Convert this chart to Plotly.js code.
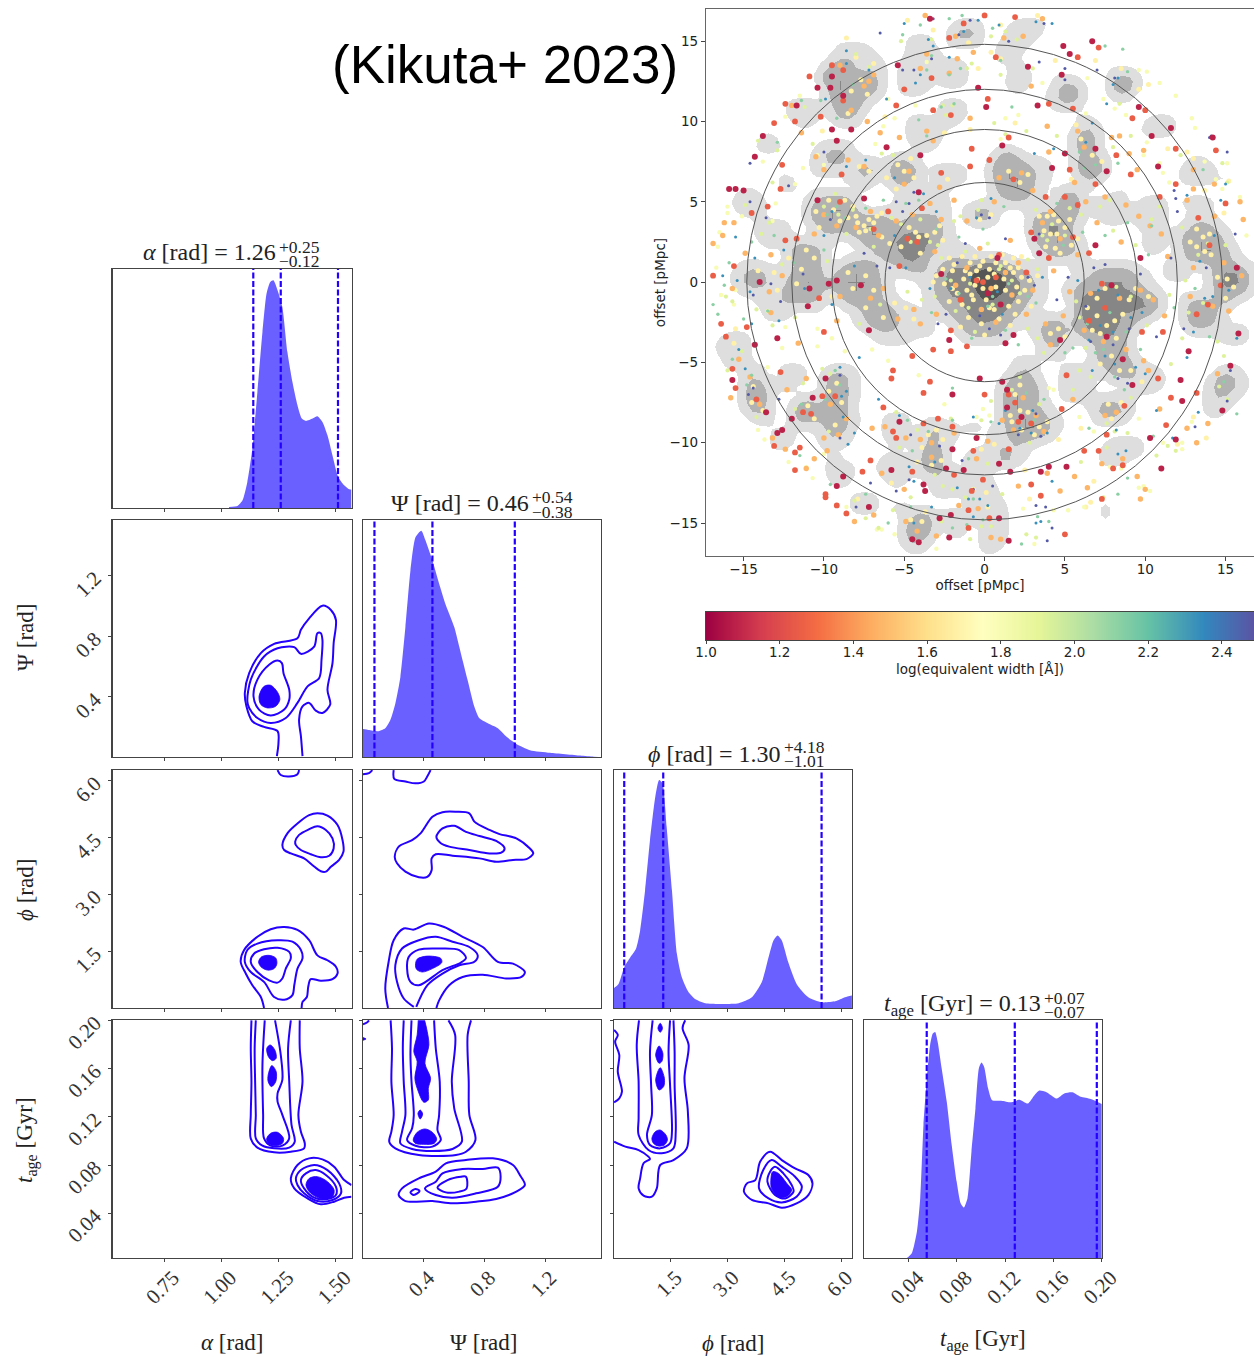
<!DOCTYPE html>
<html><head><meta charset="utf-8">
<script src="https://cdn.plot.ly/plotly-3.0.1.min.js"></script>
<style>html,body{margin:0;padding:0;background:#fff}#plot{width:1254px;height:1357px}</style></head>
<body><div id="plot"></div>
<script>
// ---------- corner plot: 1-D posteriors ----------
const alphaGrid=[1.034,1.071,1.093,1.114,1.136,1.158,1.18,1.198,1.214,1.228,1.246,1.267,1.289,1.311,1.333,1.352,1.37,1.399,1.42,1.442,1.464,1.486,1.511,1.537,1.559,1.569];
const alphaPdf=[.004,.008,.032,.109,.248,.485,.736,.897,.946,.953,.911,.841,.653,.527,.43,.374,.364,.374,.384,.36,.304,.22,.13,.095,.078,.077];
const psiGrid=[.005,.041,.107,.151,.184,.217,.25,.283,.316,.349,.387,.415,.46,.504,.548,.603,.647,.691,.735,.768,.823,.889,.944,1.01,1.099,1.231,1.429,1.517,1.565];
const psiPdf=[.118,.114,.109,.121,.156,.226,.338,.548,.787,.927,.955,.913,.829,.731,.64,.548,.436,.324,.212,.163,.142,.121,.086,.055,.029,.018,.006,.001,0];
const phiGrid=[0,.12,.27,.43,.58,.69,.82,.95,1.09,1.19,1.28,1.39,1.53,1.66,1.79,1.97,2.14,2.41,2.76,3.29,3.64,3.9,4.08,4.21,4.32,4.43,4.6,4.82,5.13,5.48,5.84,6.1,6.28];
const phiPdf=[.084,.101,.171,.213,.249,.326,.494,.705,.888,.958,.944,.761,.494,.228,.129,.066,.038,.02,.017,.02,.045,.108,.213,.284,.305,.284,.192,.101,.045,.024,.028,.045,.052];
const ageGrid=[.0386,.0427,.0469,.0496,.0523,.0551,.0578,.06,.062,.0641,.0674,.0716,.0757,.0798,.0831,.0858,.0888,.0921,.0954,.0982,.1004,.1026,.1059,.1092,.1168,.1251,.1319,.1388,.1443,.1484,.1539,.1629,.169,.1758,.1827,.1909,.2];
const agePdf=[0,.021,.112,.251,.559,.754,.894,.943,.95,.908,.796,.656,.475,.321,.23,.212,.251,.447,.628,.796,.821,.803,.712,.663,.661,.654,.665,.649,.684,.704,.698,.67,.691,.696,.677,.668,.647];
const alphaQuant=[1.14,1.26,1.51], psiQuant=[.08,.46,1.0], phiQuant=[.27,1.3,5.48], ageQuant=[.055,.128,.196];
const alphaTicks=[.75,1,1.25,1.5], alphaLabels=['0.75','1.00','1.25','1.50'];
const psiTicks=[.4,.8,1.2], psiLabels=['0.4','0.8','1.2'];
const phiTicks=[1.5,3,4.5,6], phiLabels=['1.5','3.0','4.5','6.0'];
const ageTicks=[.04,.08,.12,.16,.2], ageLabels=['0.04','0.08','0.12','0.16','0.20'];
const alphaRange=[.525,1.569], psiRange=[.005,1.565], phiRange=[0,6.283], ageRange=[.003,.2003];

// ---------- 2-D credible contours: alpha vs psi ----------
const apX1=[1.243,1.25,1.246,1.187,1.136,1.11,1.103,1.122,1.173,1.231,1.333,1.348,1.384,1.442,1.479,1.501,1.491,1.486,1.464,1.476,1.442,1.413,1.384,1.355,1.34,1.348,1.355];
const apY1=[.011,.098,.175,.203,.24,.339,.426,.557,.689,.75,.787,.842,.918,1.001,.973,.907,.754,.623,.448,.35,.295,.31,.361,.339,.251,.142,.011];
const apX2=[1.114,1.129,1.187,1.246,1.319,1.348,1.406,1.42,1.435,1.442,1.438,1.428,1.377,1.333,1.282,1.216,1.158,1.122,1.114];
const apY2=[.372,.514,.667,.721,.728,.684,.732,.82,.82,.776,.645,.525,.47,.361,.262,.229,.262,.328,.372];
const apX3=[1.141,1.158,1.209,1.246,1.265,1.272,1.297,1.297,1.275,1.216,1.165,1.141];
const apY3=[.404,.514,.612,.64,.623,.557,.448,.382,.317,.278,.317,.404];
const apX4=[1.165,1.187,1.216,1.246,1.256,1.238,1.202,1.173,1.165];
const apY4=[.404,.47,.477,.431,.382,.339,.328,.35,.404];
// alpha vs phi
const afX0=[1.246,1.26,1.296,1.333,1.34];
const afY0=[6.28,6.15,6.11,6.17,6.28];
const afX1=[1.267,1.289,1.333,1.384,1.42,1.464,1.508,1.53,1.534,1.515,1.479,1.457,1.435,1.399,1.362,1.304,1.275,1.267];
const afY1=[4.3,4.61,4.87,5.09,5.14,5.08,4.83,4.43,4.13,3.91,3.73,3.6,3.61,3.77,3.95,4.08,4.17,4.3];
const afX2=[1.323,1.34,1.384,1.42,1.457,1.486,1.491,1.472,1.435,1.391,1.348,1.326,1.323];
const afY2=[4.39,4.57,4.72,4.8,4.7,4.48,4.21,4.02,3.98,4.06,4.17,4.3,4.39];
const afX3=[1.187,1.173,1.136,1.107,1.085,1.1,1.158,1.216,1.275,1.333,1.384,1.42,1.464,1.501,1.508,1.486,1.435,1.391,1.38,1.374,1.355,1.351];
const afY3=[0,.29,.6,.91,1.22,1.53,1.88,2.08,2.14,2.06,1.79,1.39,1.26,1.09,.91,.76,.72,.76,.56,.29,.16,0];
const afX4=[1.103,1.114,1.158,1.246,1.311,1.348,1.355,1.333,1.319,1.311,1.275,1.231,1.187,1.129,1.103];
const afY4=[1.22,1.53,1.7,1.79,1.75,1.53,1.31,1.04,.6,.34,.22,.29,.69,.95,1.22];
const afX5=[1.129,1.144,1.187,1.246,1.297,1.304,1.282,1.267,1.246,1.209,1.158,1.129];
const afY5=[1.22,1.44,1.55,1.59,1.48,1.32,1.04,.78,.67,.73,.95,1.22];
const afX6=[1.163,1.176,1.209,1.238,1.243,1.231,1.202,1.173,1.163];
const afY6=[1.22,1.35,1.39,1.32,1.17,1.04,1,1.09,1.22];
// psi vs phi
const pfX0=[.005,.044,.066];
const pfY0=[6.17,6.2,6.28];
const pfX1=[.206,.21,.283,.349,.404,.426,.448];
const pfY1=[6.28,6.05,5.98,5.93,5.98,6.11,6.28];
const pfX2=[.213,.239,.327,.382,.46,.526,.614,.702,.735,.834,.9,1.01,1.099,1.121,1.077,.988,.878,.768,.592,.482,.455,.455,.426,.371,.283,.228,.213];
const pfY2=[3.99,4.26,4.43,4.61,5.05,5.17,5.18,5.14,4.92,4.7,4.59,4.48,4.21,4.08,3.93,3.91,3.86,3.95,4.02,4.06,3.95,3.64,3.46,3.45,3.6,3.82,3.99];
const pfX3=[.486,.526,.603,.68,.768,.878,.933,.911,.834,.702,.57,.515,.486];
const pfY3=[4.52,4.74,4.81,4.65,4.54,4.41,4.21,4.1,4.08,4.17,4.26,4.35,4.52];
const pfX4=[.169,.151,.173,.206,.272,.338,.437,.537,.658,.79,.889,.988,1.066,1.044,.944,.79,.658,.57,.504,.486];
const pfY4=[0,.51,1.22,1.79,2.1,2.07,2.23,2.14,1.88,1.61,1.22,1.17,.95,.82,.78,.88,.82,.6,.2,0];
const pfX5=[.338,.272,.228,.217,.261,.371,.482,.592,.702,.757,.735,.636,.526,.426,.354];
const pfY5=[.03,.25,.69,1.13,1.57,1.79,1.88,1.75,1.61,1.39,1.22,1.13,.91,.6,.03];
const pfX6=[.294,.305,.371,.504,.636,.68,.647,.526,.371,.316,.294];
const pfY6=[1.04,1.35,1.54,1.57,1.53,1.32,1.2,1,.6,.69,1.04];
const pfX7=[.349,.36,.426,.515,.521,.46,.393,.356,.349];
const pfY7=[1.13,1.29,1.37,1.31,1.2,1.04,.95,1.02,1.13];
// alpha vs age
const atX1=[1.132,1.129,1.132,1.129,1.129,1.158,1.231,1.304,1.362,1.365,1.348,1.337,1.355,1.343,1.343];
const atY1=[.2,.177,.149,.122,.102,.0945,.0906,.0911,.0939,.098,.1077,.1216,.1492,.1769,.2];
const atX2=[1.151,1.146,1.148,1.151,1.151,1.18,1.231,1.297,1.321,1.307,1.297,1.292,1.304];
const atY2=[.2,.1769,.1492,.1216,.1022,.0961,.0939,.0945,.0994,.1133,.1492,.1769,.2];
const atX3=[1.19,1.18,1.183,1.187,1.216,1.267,1.297,1.267,1.246,1.246,1.267,1.26,1.235];
const atY3=[.2,.163,.1216,.1022,.0961,.0961,.1022,.1216,.1326,.1395,.1506,.1713,.2];
const atX4=[1.198,1.216,1.246,1.272,1.267,1.238,1.209,1.198];
const atY4=[.1017,.1064,.1072,.1022,.098,.0961,.0972,.1017];
const atX5=[1.199,1.214,1.234,1.24,1.224,1.206,1.199];
const atY5=[.1769,.1796,.1755,.1686,.1666,.1699,.1769];
const atX6=[1.205,1.221,1.24,1.238,1.219,1.205,1.205];
const atY6=[.1547,.1625,.1575,.1492,.1451,.1492,.1547];
const atX7=[1.569,1.537,1.493,1.442,1.384,1.333,1.304,1.319,1.377,1.435,1.493,1.537,1.569];
const atY7=[.0635,.0676,.0787,.0848,.0856,.0801,.069,.0607,.0524,.0475,.0497,.053,.0538];
const atX8=[1.326,1.348,1.406,1.464,1.515,1.523,1.486,1.42,1.362,1.333,1.326];
const atY8=[.069,.0759,.0801,.0759,.0649,.0566,.0511,.0502,.0566,.0635,.069];
const atX9=[1.348,1.37,1.413,1.457,1.501,1.501,1.464,1.406,1.362,1.348];
const atY9=[.0676,.0732,.0759,.0718,.0621,.0552,.0519,.053,.0607,.0676];
const atX10=[1.37,1.384,1.42,1.464,1.493,1.486,1.442,1.391,1.37];
const atY10=[.0635,.069,.0704,.0663,.0594,.0538,.0519,.0566,.0635];
// psi vs age
const ptX0=[.005,.033,.044];
const ptY0=[.1968,.1984,.2];
const ptX00=[.005,.025,.005];
const ptY00=[.1857,.1846,.1835];
const ptX1=[.186,.195,.191,.206,.191,.177,.217,.371,.614,.68,.742,.702,.698,.691,.713];
const ptY1=[.2,.1769,.1492,.1216,.1077,.0994,.0939,.0884,.0884,.0911,.1008,.1216,.1492,.1879,.2];
const ptX2=[.272,.266,.272,.283,.261,.25,.327,.46,.592,.653,.603,.587,.609,.565];
const ptY2=[.2,.1769,.1492,.1216,.1077,.098,.0934,.0917,.0934,.0994,.1271,.1492,.1879,.2];
const ptX3=[.323,.316,.323,.338,.327,.294,.349,.46,.515,.493,.504,.508,.482,.471];
const ptY3=[.2,.1713,.1492,.1216,.1105,.1008,.0961,.0953,.1008,.1091,.1216,.1492,.1769,.2];
const ptX4=[.334,.36,.411,.46,.488,.471,.404,.349,.334];
const ptY4=[.1008,.1072,.11,.1072,.1017,.098,.0972,.098,.1008];
const ptX5=[.365,.38,.396,.38,.365];
const ptY5=[.1229,.1257,.1224,.1182,.1229];
const ptX6=[.367,.36,.338,.36,.345,.36,.404,.433,.433,.448,.411,.437,.426,.409];
const ptY6=[.2,.1879,.1741,.1658,.152,.1437,.1321,.134,.1437,.152,.1644,.1796,.1907,.2];
const ptX7=[.239,.261,.371,.482,.548,.68,.856,.988,1.033,1.066,1.01,.878,.746,.592,.46,.283,.239];
const ptY7=[.0552,.0607,.069,.0746,.0815,.0842,.0856,.0801,.0718,.0635,.058,.0519,.0497,.0483,.0502,.0502,.0552];
const ptX8=[.316,.349,.376,.338,.316];
const ptY8=[.0574,.0602,.0585,.0552,.0574];
const ptX9=[.411,.482,.526,.658,.79,.889,.907,.889,.746,.592,.482,.411];
const ptY9=[.0607,.0663,.0732,.0768,.0768,.0779,.0704,.0621,.0566,.053,.0552,.0607];
const ptX10=[.493,.559,.647,.68,.684,.636,.548,.493];
const ptY10=[.0613,.0676,.0704,.0704,.0607,.058,.0574,.0613];
// phi vs age
const ftX0=[.002,.1,.03,.14,.1,.21,.14,.002];
const ftY0=[.1921,.1879,.1824,.1713,.1575,.1409,.1354,.1321];
const ftX1=[.002,.3,.65,.91,.95,.78,.69,.65,.78,1,1.13,1.22,1.57,1.92,1.95,1.86,1.97,1.81,1.88];
const ftY1=[.0994,.0953,.0925,.087,.0851,.0815,.069,.0607,.0547,.0538,.0607,.0801,.0842,.0939,.1243,.152,.1796,.1934,.2];
const ftX2=[.66,.6,.65,.65,.65,.91,1.26,1.57,1.63,1.6,1.6,1.57];
const ftY2=[.2,.1796,.1492,.1188,.105,.0925,.0898,.0939,.1077,.1464,.1741,.2];
const ftX3=[1.02,.95,.98,1,.87,.95,1.22,1.48,1.53,1.48,1.44,1.48];
const ftY3=[.2,.1741,.1464,.1216,.105,.0967,.0939,.0981,.1077,.1464,.1741,.2];
const ftX4=[1,1.09,1.22,1.37,1.41,1.33,1.17,1.04,1];
const ftY4=[.1022,.1077,.1091,.105,.1008,.0967,.0958,.0981,.1022];
const ftX5=[1.16,1.22,1.28,1.22,1.16];
const ftY5=[.1934,.1976,.1934,.1901,.1934];
const ftX6=[1.1,1.19,1.29,1.26,1.19,1.1];
const ftY6=[.1713,.1788,.1727,.1658,.1644,.1713];
const ftX7=[1.1,1.22,1.33,1.31,1.19,1.1];
const ftY7=[.1506,.1608,.152,.1451,.1423,.1506];
const ftX8=[3.43,3.51,3.73,3.86,4.12,4.43,4.78,5.13,5.24,5.13,4.82,4.43,4.08,3.64,3.43];
const ftY8=[.058,.0649,.0676,.0829,.0911,.0842,.0773,.0718,.0649,.0552,.0483,.0447,.0483,.0511,.058];
const ftX9=[3.83,3.94,4.16,4.43,4.78,4.96,4.82,4.43,4.08,3.83];
const ftY9=[.0607,.0759,.0842,.0787,.0704,.0621,.0538,.0491,.0524,.0607];
const ftX10=[4.05,4.12,4.25,4.47,4.69,4.74,4.52,4.25,4.05];
const ftY10=[.0663,.0746,.0787,.0732,.0635,.058,.0524,.0552,.0663];
const ftX11=[4.14,4.19,4.34,4.56,4.69,4.56,4.34,4.16,4.14];
const ftY11=[.0676,.0746,.0732,.0649,.0594,.0538,.0538,.0607,.0676];

// ---------- offset map: projected density, read per row [y, x0,x1, x0,x1, ...] ----------
const densityLow=[
[16,-1.5,-.5,2,3.5],[15.5,-2,-.5,1.5,3],[15,-4.5,-3.5,-2,-.5,1.5,2.5],[14.5,-9,-7.5,-4.5,-3.5,1,2],[14,-9,-7,-4.5,-3,1,1.5],
[13.5,-9.5,-6.5,-5,-3.5,-2.5,-1.5,2,2],[13,-10,-6.5,-5,-3.5,-2.5,-1.5,2,2.5,8,9],[12.5,-9.5,-6.5,-5,-3.5,-2.5,-1.5,1.5,2.5,4.5,5.5,8,9.5],[12,-9.5,-6.5,-5,-4,2,2,4.5,6,8,9],[11.5,-9.5,-7,4,6,8.5,8.5],
[11,-12,-10.5,-9.5,-7.5,-2.5,-1.5,4.5,5.5],[10.5,-12,-10.5,-9.5,-8,-2.5,-1.5],[10,-11.5,-11,-9,-8,-4.5,-3.5,-2.5,-2,6,6.5,10.5,11.5],[9.5,-4.5,-3,6,7,10,11.5],[9,-13.5,-13.5,-4.5,-3,5.5,7],
[8.5,-14,-13,-10,-8.5,-4,-3.5,5.5,7],[8,-10.5,-8.5,1,2,6,7],[7.5,-10.5,-8,-8,-7,-6,-4.5,.5,3.5,5.5,7.5,13,13.5],[7,-10.5,-9,-8.5,-7,-6,-4,-3,-1.5,.5,4,6,7.5,12.5,14],[6.5,-12.5,-12.5,-8,-7,-6,-4.5,-3,-1.5,.5,3.5,6,7,12.5,14,15,15],
[6,-12.5,-12,-7.5,-7.5,-5.5,-5,-2.5,-2.5,.5,3.5],[5.5,-15,-14.5,-10.5,-8.5,-5,-3,.5,3,4.5,6,8.5,8.5],[5,-15.5,-14,-11,-8,-5,-2.5,1,2.5,4.5,6,7,8.5,10,11,12.5,14],[4.5,-15,-14,-11,-8,-6,-2.5,-1,.5,3,6,7,8.5,9.5,11],[4,-11,-6,-5,-2.5,-1,.5,3,6,7.5,8.5,9.5,11,13,14],
[3.5,-14,-12.5,-10.5,-2.5,3,5.5,10,11,12.5,14.5],[3,-14,-12.5,-10,-2,3,5.5,12,15],[2.5,-13.5,-13,-12,-10,-7.5,-3,3,6,10,11,12,15],[2,-12,-10,-7,-3,-2,-1,3.5,6,10.5,10.5,12.5,15.5],[1.5,-12,-10,-8,-4.5,-3,-1,0,1,4,6,12,15.5],
[1,-15,-14,-12.5,-10.5,-9,-3.5,-3,3,6,6,7,9,11.5,12.5,14,16.5],[.5,-15.5,-13.5,-13,-10,-9.5,-6.5,-4.5,-3.5,-3,3.5,6,10,11.5,12.5,14,16.5],[0,-15.5,-13.5,-13,-10,-9.5,-6,-3.5,3.5,5.5,10,14,16.5],[-.5,-15,-6,-3.5,3.5,5,10.5,14.5,16.5],[-1,-14,-10,-9,-6,-3.5,3.5,5.5,11,12.5,14.5,15,15.5],
[-1.5,-13.5,-12,-11,-10.5,-8.5,-5,-3,3,5.5,11,12.5,15],[-2,-13.5,-12.5,-7.5,-4,-2.5,2.5,5.5,10.5,12.5,14.5],[-2.5,-8,-3.5,-2,2,3,5,5.5,9.5,12.5,14.5],[-3,-7,-3.5,-1.5,1.5,3,9,13,14.5,15,16],[-3.5,-16,-15,-6.5,-5,-1,1,3.5,5,6,9,15,16],
[-4,-16.5,-15,3.5,5,7,9],[-4.5,-16,-15,4,4.5,7,9],[-5,-16,-15,2,3,7,9.5],[-5.5,-14.5,-14,-12.5,-11.5,-9.5,-8.5,2,3,5,6.5,7.5,10.5,15,15.5],[-6,-15,-14,-12.5,-11.5,-10,-8,1.5,3,5,6.5,8,11,14.5,16],
[-6.5,-15,-13.5,-12.5,-12.5,-10,-8.5,1,3.5,5,6.5,9,10.5,14,16],[-7,-15,-13.5,-10,-8,1,3.5,5,6,14,15.5],[-7.5,-15,-13.5,-11.5,-10.5,-10,-8.5,1,3.5,6.5,9,14,15],[-8,-14.5,-13.5,-12,-10.5,-10,-8.5,1,4,7,9,14,14.5],[-8.5,-14,-13.5,-12,-8,-6,-5,1,4.5,7,8.5],
[-9,-10.5,-8.5,-6,-5,-3.5,-2,-1,-.5,1,4.5],[-9.5,-13,-12,-10,-8.5,-6,-5,-4,-2,.5,4],[-10,-13,-12.5,-10,-9,-5.5,-5.5,-4,-2.5,.5,2.5,8,9.5],[-10.5,-4,-2.5,-.5,-.5,.5,2.5,7.5,9.5],[-11,-9.5,-9.5,-6,-5,-4,-2.5,-1,0,.5,2,7.5,8.5],
[-11.5,-9.5,-8.5,-6.5,-4.5,-4,-2.5,-1,0],[-12,-9.5,-8.5,-6,-5,-3.5,-2,-1,0],[-12.5,-9,-9,-5.5,-5.5,-3,-2,-1.5,0],[-13,-3,-2,-1,.5],[-13.5,-8,-7,-1,.5],
[-14,-8,-7,-5.5,-5,-.5,1,7.5,7.5],[-14.5,-4.5,-3.5,-2.5,-1.5,-.5,1,7.5,7.5],[-15,-5,-3.5,-2.5,-1.5,0,1],[-15.5,-5,-3.5,-2,-1.5,0,1],[-16,-5,-3.5,0,1],[-16.5,-4.5,-4,0,.5]];
const densityMid=[
[15.5,-1.5,-1],[13.5,-9.5,-9],[13,-10,-8.5],[12.5,-10,-8.5,-7.5,-7,8.5,9],[12,-9.5,-8.5,-7.5,-7,5,5.5,8,9],[11.5,-9.5,-8,5,5.5],[11,-9,-8],[10.5,-9,-8.5],[9,6,6.5],[8.5,6,6.5],[8,-9.5,-9,1,1.5],
[7.5,-5.5,-5,1,2,6,7],[7,-7.5,-7,-5.5,-4.5,.5,2.5,6,7],[6.5,-5.5,-4.5,1,2.5,6.5,6.5],[6,1,2.5],[5.5,1.5,2.5,5,5.5],[5,-10,-8.5,5,5.5],[4.5,-10.5,-8.5,-.5,0,5,5.5],[4,-10.5,-8.5,-8,-6.5,-.5,0,3.5,5],[3.5,-10,-9,-8,-6,-5,-3,3,5,13.5,13.5],
[3,-8,-6,-5.5,-3,3.5,5,13,14],[2.5,-7.5,-5.5,-5,-3,3.5,5,12.5,14.5],[2,-12,-11,-6,-3.5,4,5,13,14.5],[1.5,-11.5,-10.5,-5.5,-4,13,14.5,15,15],[1,-11,-10.5,-8.5,-7.5,-5,-4,-2,-1.5,0,1.5],[.5,-14.5,-14,-11.5,-10.5,-9,-7,-2.5,2,7,9,14.5,16],
[0,-14.5,-14.5,-11.5,-10.5,-9,-7,-2.5,2.5,7,9,14.5,16],[-.5,-12,-10.5,-9,-7,-2.5,2.5,6,9,14.5,16],[-1,-12,-11,-8.5,-7.5,-2.5,2,6,8,8.5,10.5,15,15],[-1.5,-7.5,-6.5,-2,2,6,10.5,13,14],[-2,-7,-6,-1.5,1.5,6,10,13,14],[-2.5,-7,-6,-1,1,4,4.5,6,9,13,13.5],[-3,-1,.5,4,4.5,6,8.5],[-3.5,4,4.5,6.5,8.5],
[-4,7.5,8],[-4.5,7,8.5],[-5,7.5,8.5],[-5.5,8,9],[-6,-9.5,-9,2,2.5,14.5,15],[-6.5,-14.5,-14,-9.5,-9,1.5,3,14.5,15],[-7,-14.5,-14,-9.5,-9,1.5,3],[-7.5,-14.5,-14,-11.5,-11,-9.5,-9,1.5,2.5,7.5,8],[-8,-14.5,-14.5,-11.5,-10.5,-9.5,-9,1.5,3,7.5,8],[-8.5,-11.5,-11,-9.5,-9,1.5,3.5],[-9,-9.5,-9,-3.5,-3,2,3.5],[-9.5,2,3.5],
[-10.5,-3.5,-3],[-11,-3.5,-3,1,1.5],[-11.5,-3.5,-3],[-14.5,-4,-3.5],[-15,-4.5,-3.5],[-15.5,-4.5,-3.5],[-16,-4.5,-4.5]];
const densityHigh=[[2.5,-4.5,-4.5],[2,-4.5,-4],[1,-.5,.5],[.5,-2,-1,-.5,1,15,15.5],[0,-2,-1.5,-1,1.5],[-.5,-.5,1.5],[-1,-.5,1,6.5,6.5,9,9.5],[-1.5,-.5,.5,6.5,7.5],[-2,6.5,7.5],[-2.5,7,7.5]];
const densityPeak=[[.5,-.5,.5],[0,-.5,1],[-.5,0,.5]];

// ---------- offset map: emitters, by log equivalent width ----------
const ew105=[[-3.4,16.4],[4.9,14.7],[5.3,14.2],[6.7,15],[-5.4,13.5],[-9.5,12.8],[-10.4,12.1],[-9.6,12.1],[-11.7,11],[-8.8,11.6],[-.4,12.1],[.1,10.9],[4.8,12.9],[3.3,11],[2.7,13.4],[-9.2,8.8],[-8.3,9.5],[-9.5,9.5],[-14.3,7.8],[-13.8,9.1],[-6.1,8.4],[-4,7.9],[6.9,8.3],[5,8],[4.2,7.1],[14.2,9],[10.8,7.2],[9.6,10.9],[10.4,9.1],[11.6,9.6],[7.6,6.9],[-15.5,5.8],[-15.9,5.8],[-15,5.7],[-4.1,5.6],[-10.4,5.1],[-7.5,5.2],[1.1,8.5],[3.1,2.7],[3.4,1.8],[6.9,2.3],[9.7,1.5],[15.7,.9],[7.9,-.2],[-7.7,-.2],[-9.2,.1],[-14,0],[-10.9,-.4],[-11,-1.5],[-9.7,-.1],[1,-1.4],[1.8,-3.3],[1.3,-3.8],[-2.2,-3.6],[-7.2,-3],[-12.9,-3.5],[-14.3,-3.9],[7.6,-3.4],[4.7,-3.6],[15.8,-3.2],[8.6,-4.8],[9.2,-6.4],[12.3,-7.4],[14.8,-8],[12.2,-6.1],[15.3,-5.2],[12.7,-4.3],[-.3,-6],[1.1,-6.2],[-2,-7],[1.4,-6.7],[1.4,-7.8],[2.3,-8.4],[-5.3,-8.7],[-.5,-9.7],[-2,-10.4],[-2.4,-11.6],[-1.3,-11.7],[-5.8,-11.7],[.9,-11.3],[1.6,-11.8],[3.5,-11.8],[4,-11.5],[5.1,-11.5],[11,-11.6],[11.9,-9.8],[10.3,-9.7],[-3.8,-12.6],[-3.7,-13],[-8.8,-12.1],[-9.2,-12.7],[-7.2,-14],[-2.1,-14.5],[-2.8,-14.7],[.9,-14.7],[-4.5,-16],[-4.1,-16.2],[-2.2,-15.9],[1.5,-16.1],[-12.6,-9.2],[-12.9,-9.4],[-12,-8.5],[-10.7,-7.2],[-9.9,-6],[-13.6,-8.1],[-15.7,-6.1],[.8,1.5],[-2.7,.5],[.2,-.7]];
const ew125=[[0,16.6],[1.9,16.5],[-1.3,16.1],[-2.2,15.2],[.7,14],[7.1,14.6],[5.8,14],[-9.5,13.5],[-10.9,12.8],[-8.8,13.2],[-12.4,11.1],[-11.8,10],[-10.2,10.3],[-8.8,11.3],[-13.1,9.9],[-5,12],[-3.3,12.7],[-5.5,11],[-3.2,10.7],[-2.1,10.4],[.2,11.4],[4,11.1],[5.5,10.8],[9.2,10.2],[10,10.7],[11.9,8.3],[8.2,7.9],[1.5,9],[-.8,8.3],[-2.7,6.8],[-.9,7.2],[.3,7.6],[1.8,6.4],[5.3,7],[6.9,6.1],[9.1,6.7],[11.9,6.1],[3.8,5.3],[5,5.3],[5.8,4.8],[-8.9,6.7],[-12.6,7.3],[-12.7,5.8],[-13.5,4.7],[-14.5,4.3],[-9,5],[-6,4.4],[-6.9,3.3],[-4.8,2.7],[-4.2,2.5],[-11.7,2.7],[-12.4,2.6],[-16.9,.4],[-15.6,1],[6.5,1.8],[2.9,3.1],[7.3,-.1],[15,4.9],[13.3,4],[14,2.3],[14.4,8.2],[10.9,5.3],[-.1,0],[-.5,.1],[.7,.3],[.9,1.7],[13.9,-1.4],[13.2,-2],[13.2,-6.9],[8.7,-7.7],[11.3,-8.9],[5.1,-5.8],[4.8,-7.9],[1.5,-7],[1.9,-7.5],[2.1,-8.7],[2.9,-8.8],[0,-7],[-3.8,-6.9],[-3.8,-8.8],[-6.3,-7.8],[-5.7,-5.5],[-5.8,-6],[-3.4,-6.2],[-4.5,-4.6],[-2.1,-4.3],[-3.2,-4.2],[-1.1,-4],[-2.1,-3],[7.6,-9.5],[6.2,-10.5],[7.1,-10.5],[8,-11.6],[8.6,-11.4],[2.9,-12.6],[3.5,-13.3],[5,-15.7],[7.3,-13.5],[-1,-15.3],[-.8,-13],[-.1,-12.3],[-1,-14.2],[.3,-14.7],[-4.5,-11.8],[-1.9,-12],[1.5,-10.4],[-.7,-10.5],[-2,-9],[-2.9,-8.5],[-5.7,-9.3],[-5.5,-9.7],[-7.1,-11.1],[-7.6,-11.8],[-9.9,-13.2],[-9.9,-13.4],[-9.2,-13.9],[-8.6,-14.4],[-11.8,-10.6],[-11.8,-11.7],[-11.5,-10.3],[-13.1,-10.2],[-11.3,-8.1],[-10.8,-8.2],[-10.1,-7.1],[-9.3,-7.1],[-14.2,-7.3],[-15.7,-5.4],[-15.5,-6.6],[-16.4,-2.6],[-16.1,-3.4],[-14.8,-2.8],[-12.7,-5.6],[-10,-3.1],[9.8,-3.1],[11.1,-3.1],[10.8,-6],[11.6,-7.2],[5.5,2.8],[4,1.5],[-3.9,4.6],[-10.3,-1],[-5.3,1],[-1.5,-1.1],[2.6,.6],[6.5,-2.4],[7.5,-1.6],[14.7,-.2]];
const ew145=[[-3.7,16.6],[1.2,15.2],[-1.8,15.3],[3.6,16.4],[2.4,15.3],[-3.6,14.2],[-4,13.3],[-2.2,13],[-1.7,13.9],[-.7,14.3],[-7.2,12.5],[-7.5,12.2],[-6.9,12.9],[-9,13.5],[-8.3,10.7],[-7.3,10],[-6.5,9.3],[-5.3,9],[-3.6,9.4],[-3.2,8.8],[-.9,10.2],[2.9,12.2],[3.9,9.7],[4,8.1],[5.8,9.4],[6.2,8.4],[7.9,9],[8.4,9.1],[9,8],[9.9,8.2],[9.5,7],[13,7],[14.3,6.1],[15.9,5],[16.1,3.9],[13,5.8],[-12,11],[-11.4,9.3],[-10.5,7.8],[-10,7],[-8.5,7.6],[-7.5,7.2],[-4.7,6.9],[-5,6.1],[-2.8,5.9],[-3.4,4.9],[-1.9,5.1],[.9,6.5],[2.3,6.8],[3,5.7],[5.6,6.2],[6.3,5],[7.5,5.3],[8.8,4.8],[9.6,4.1],[10.3,3.5],[11,3],[12.6,5.1],[14.3,4.1],[-16.2,3.7],[-16.3,2.9],[-16.9,2.4],[-15.6,3.7],[-14.9,1.8],[-13.3,1.7],[-12.6,.4],[-10.6,3],[-10,4.2],[-9.2,3.5],[-8,3.4],[-7.1,4.4],[-6.6,2.9],[-5.5,3.8],[-4.5,4.2],[-3.1,1.9],[-2.7,3.9],[-1.1,3.8],[.6,5],[4.1,4.4],[3.6,3.7],[4.7,2.7],[5.8,1.7],[7,3.7],[8.5,2.5],[11.4,1.6],[13,.9],[14.9,1.2],[16,.4],[-15.7,-.4],[-13.4,-.6],[-9,-.9],[-7.1,-1],[-6.3,-.4],[-5.4,-2.3],[-4.4,-1.7],[-4,-2.6],[-3,-2],[-.3,2.1],[1.6,2.6],[2.1,1.2],[1.3,.6],[-1.1,.9],[-1.8,-.2],[.4,-.4],[1.7,-.8],[3,-.5],[4.3,.7],[5.3,-.6],[6.6,-.7],[8.4,-1],[9.7,-.5],[10.5,-1.1],[11.2,-2.1],[12.8,-.9],[14.2,-1.5],[15.2,-1.8],[-.2,-1.7],[.7,-2.5],[2.6,-2],[3.8,-2.6],[4.1,-3.9],[4.9,-2.1],[6.2,-3],[7.4,-3.7],[8.8,-4.2],[9.9,-4.9],[10.2,-5.5],[-9.2,-2.4],[-11.6,-3.8],[-13.3,-1.9],[-15.3,-4.8],[-15.8,-7.2],[-14,-7.6],[-14.6,-5.9],[-12.3,-6.7],[-11.1,-6],[-9.6,-7.6],[-8.6,-8.5],[-9.1,-9.5],[-10,-9.7],[-7,-9.1],[-6.2,-9],[-4.9,-9.7],[-4,-9.8],[-3.3,-10],[-3.3,-10.9],[-1.9,-9.4],[-.5,-11],[.2,-9.9],[1.1,-8.6],[1.8,-9.2],[3.2,-8.3],[3.7,-9.3],[2.4,-7.2],[5.5,-7.3],[7.5,-8.3],[8.2,-8.1],[14.5,-5.7],[13.9,-8.8],[13.2,-10],[12.6,-9.1],[10.9,-7.9],[8.6,-11],[7.3,-11.3],[5.6,-12.1],[3.9,-11.9],[2.1,-12.7],[-6.4,-11.9],[-5,-12.9],[-1.6,-13.9],[-.4,-14.1],[.4,-15.9],[1,-16],[-3,-15.8],[-4.2,-15.5],[-4.9,-14.9],[-6.9,-14.5],[-8.1,-14.9],[-9.8,-10.5],[-11.1,-11.6],[-10.6,-11],[-12.4,-10.4],[-13.2,-9.7],[4.7,-13],[6.4,-12.8],[9.5,-12.1],[10,-12.9],[9.7,-13.5]];
const ew165=[[-4.8,16.3],[1,16],[3.3,16.6],[-3.2,15.7],[-1,14.9],[1,13.9],[.4,14.3],[-.4,13.3],[4.4,13.8],[-8.6,15.2],[-8,14],[-6.9,13.6],[-7.3,11.7],[-8.3,11.9],[-8.5,10.5],[-7.7,12.6],[-10.1,9.4],[-6.2,10.3],[-2.5,9.3],[-.9,9.5],[1.9,9.9],[5.7,9.8],[6,8.9],[6.7,7.9],[7.3,7.5],[5.4,6.4],[-2.3,6.4],[1.5,6.9],[2.2,6.2],[2.7,6.7],[-7.8,7.2],[-7.2,6.9],[-6.1,6.5],[-5.4,7.3],[-4.6,7.7],[-5,6.9],[-4.4,6.5],[-5.5,5.8],[-9.7,5.1],[-10.5,4.4],[-10.3,3.4],[-9.4,4.5],[-8.7,5.1],[-8.2,4.7],[-9,3.8],[-8.5,4],[-6.4,4.3],[-8,4.1],[-7.9,3.7],[-7.5,3.5],[-7.2,3.9],[-7.4,3.2],[-6.9,3.7],[-6.7,4.1],[-7.8,3.1],[-6.4,2.8],[-5.9,2.4],[-5.2,2.2],[-4.7,3.4],[-4.3,3.1],[-4.1,2.8],[-4,1.8],[-3.6,2.9],[-3.1,3.1],[-2.8,3.5],[-2.6,2.6],[3.4,4.1],[3.9,4.1],[4.3,4.2],[4.6,3.8],[3.7,3.2],[4.1,3],[4.5,3],[5,3.4],[5.3,3.9],[3.8,2.2],[4.4,2.1],[4.7,1.8],[5.4,2.3],[5.8,2.7],[-.3,3.9],[.4,4.2],[-2.2,1.5],[-2,.7],[-1.4,1.6],[-.9,1.2],[-.6,1.6],[-.1,1.3],[.3,.8],[.7,1.2],[1.3,1.2],[1.8,1.5],[2.3,1.6],[-3,.4],[-2.5,-.1],[-2,-.4],[-1.3,.2],[-.9,.5],[-.5,.7],[.2,.3],[.6,.5],[1.2,.2],[1.8,.6],[2.3,.3],[2.8,.1],[-1.7,-.7],[-1.1,-.5],[-.6,-.2],[-.1,-.4],[.7,-.3],[1.3,-.5],[2,-.3],[2.5,-.5],[-2.2,-1.2],[-1.4,-1.4],[-.7,-1.1],[.1,-1.1],[.6,-1.7],[1.5,-1.5],[2.1,-1.2],[-1,-2.2],[-.2,-2.6],[.9,-2.3],[1.6,-2.7],[-1.5,-2.8],[0,-3.3],[13.2,3.3],[13.6,2.8],[14,3],[13.2,2.2],[13.7,1.9],[12.8,2.5],[14.1,1.7],[15.1,.2],[15.5,-.3],[14.5,.3],[15,-1],[-14.1,.7],[-13.1,.6],[-12.9,-.5],[-11.7,-.1],[-12.2,1.5],[-11.1,2],[-10.6,1.5],[-11.4,.8],[-9.5,-.9],[-8.5,.6],[-8.2,-.4],[-7.4,.4],[-6.9,-.5],[-7.4,-1.6],[-6.3,-2.2],[-5.6,-1.3],[-4.4,-2.3],[-4.9,-1.6],[7,-1],[7.5,-.4],[6.4,-1.6],[7,-2.1],[7.6,-2.7],[8.1,-2.4],[6.7,-3],[7.2,-3.2],[8.2,-3.5],[8.6,-2],[9,-1.1],[9.4,-.4],[10.2,-.9],[4.1,-3.2],[4.6,-2.9],[5,-3.4],[7.9,-4.6],[7.2,-5.1],[8.4,-5.5],[9.1,-5.5],[9.8,-6.2],[7.7,-7.6],[7.9,-8.5],[8.5,-7.5],[1.6,-8.3],[2.2,-8],[2.7,-8.1],[3.1,-9.5],[3.4,-9],[2.3,-9.2],[1.7,-8.7],[3.9,-8.7],[2.2,-6.4],[1.9,-7],[-9.2,-6.3],[-9.7,-6.8],[-8.9,-7.5],[-9.3,-8.9],[-14.5,-7.5],[-14.4,-6.5],[-13.8,-8],[-11,-7.7],[-10.6,-8.5],[-3,-9.2],[-2.6,-9.8],[-3.5,-9.5],[-3.9,-10.3],[-4.2,-11.2],[-3.3,-11.4],[-2.7,-11.1],[-.2,-10.4],[.6,-10.1],[-4.6,-14.8],[-3.9,-14.9],[-3.7,-14.3],[-.7,-12.9],[.1,-13.1],[.2,-14],[-15.6,-3.8],[-15.5,-2.9],[12.6,8.1],[13,7.7],[13.7,5.7],[14.9,4.3],[15.2,6.3],[6.9,13.8],[8.5,13.3],[9.6,12],[11.4,8.3],[10.2,12.3],[12,-10.1],[13.8,-9.7],[13,-8.4],[2.5,-11.7],[2.8,-13.5],[-5.8,-12.5],[-7.9,-13.5],[6.6,-13.7],[6.3,-14],[4.6,-9.8],[6,-9.1],[6.8,-12.4],[-1.9,1.1],[-1.2,.7],[-.3,1],[.4,1.6],[1.1,1.7],[1.6,.9],[2.1,.9],[-2.6,.8],[-3.2,0],[-.8,-.8],[.3,-1.6],[1.9,-2],[2.9,-1.5],[3.3,.4]];
const ew178=[[9.6,13.2],[10.1,13.1],[10.9,12.4],[7.4,11.4],[8.1,10.8],[8.8,10.4],[11.9,11.6],[12.9,10.2],[10.1,8.7],[9.9,7.9],[10.9,7.4],[13.1,9.6],[13.7,7.5],[15.1,7.4],[15.9,5.3],[16.3,2.9],[11.5,6.2],[11.1,6.8],[14.4,6.4],[14.8,5.8],[6.4,12.7],[6.3,10.5],[3.6,12.4],[2.1,10.4],[1.3,10.2],[1,8.9],[-3.6,13.7],[-6,11.4],[-4.3,11],[-5.6,10.2],[-6.3,9.7],[-6.8,8.6],[-11.5,11.6],[-12.4,10.3],[-13.8,7.5],[-10.4,7.9],[-11.3,7.1],[-10,7.3],[-11.8,6.1],[-13,4.9],[-13.2,3.8],[-15.1,4.1],[-16,4.7],[-16,4.3],[-16.5,3.1],[-16.6,2.2],[-16.7,.9],[-16.4,-.8],[-15.5,-.5],[-15.6,-1.4],[-13.5,-1.8],[-12.4,-2.8],[-10.4,-2.9],[-9.5,-3.5],[-8.7,-4.3],[-10.4,-4],[-12.6,-4.1],[-13.5,-5.3],[-7,-4.2],[-6,-4.9],[-4.1,-5.8],[-2.5,-7.6],[-.1,-7.9],[.3,-8.3],[-.5,-8.4],[4.3,-6.7],[4,-6.6],[5.9,-8.4],[6.8,-9.3],[9.6,-8.5],[11.1,-10],[12.3,-10],[12.9,-8.7],[7.8,-11.5],[8.5,-11.6],[6.2,-14],[4.3,-14.2],[5.2,-14.2],[2.4,-14.1],[3.1,-16.3],[-3,-16.6],[-6.4,-15.4],[-6.7,-15.4],[-5.6,-15.7],[-8.6,-14],[-10.7,-12.2],[-11.1,-11.5],[-12.2,-11.2],[-13.7,-9.8],[-14.1,-9.2],[-10,-10.7],[9.6,-12.8],[9.9,-12.7],[10.3,-13],[12.3,-10.4]];
const ew190=[[-3.3,15.1],[2,15.1],[.4,15.3],[1.3,15.6],[-1.1,13.3],[-.8,13.6],[1,12.9],[3,13.3],[-8,14.2],[-7.2,13.4],[-5.2,15],[-11.2,10.9],[-10.7,8.6],[-12.9,8.2],[-14.1,8.8],[-6.4,8],[-5.7,7.9],[-2.6,11],[-2.4,10.4],[-2,11],[1.3,9.2],[.6,9.9],[2.6,9.4],[4.5,9.1],[8,8.4],[8.4,11.1],[9.1,9.1],[12.2,7.9],[14.8,7.4],[15.1,6.2],[-13.2,6.2],[-14.9,4.8],[-13.4,3.7],[-13.9,3],[-9.3,5.5],[-8.6,3],[-6.9,2.2],[-5.8,4],[-5.2,3.6],[-4,3.9],[-2.9,2.3],[-1.9,3.8],[-1.5,4.1],[-.4,4.5],[-.2,5.1],[3.2,4.5],[3.9,2.6],[5.3,4.6],[6,4.2],[7.2,4.7],[7.8,5.1],[8,3.2],[9.4,2.3],[10.4,3.9],[10.9,4.7],[12.3,3.4],[15,2.3],[-1.8,-1.8],[-.9,-.1],[.9,.8],[1.7,.1],[2.7,1.4],[3.3,.8],[-3.1,-.9],[-2.7,1.5],[-4.8,-.6],[-9.8,1.3],[-12.6,1.1],[-11.8,-2.2],[-14.2,-1.7],[-13.2,-2.7],[-6.5,-1.4],[-7.8,-2.6],[-3.9,-1.1],[-.6,-3.1],[2.7,-2.9],[3.3,-3.5],[3.7,-4.4],[5.7,-1.2],[5.9,-2.2],[8.2,-.3],[9.1,-.9],[11.5,-.8],[12.5,.1],[12.7,-1.9],[13.6,-1.3],[14.5,-3.7],[10.1,-2.7],[6.3,-4.1],[6.6,-5.9],[5.5,-6.7],[5.9,-5.5],[9.1,-7.2],[8.1,-9.3],[7.6,-8.8],[11.6,-5.1],[12.3,-3.5],[14.6,-6.5],[15.1,-7.3],[14.9,-4.6],[1.7,-6.7],[2.2,-5.9],[3.4,-7.6],[.4,-7.4],[-.2,-8.6],[-.4,-9.6],[-2.1,-8.5],[-4.2,-9.2],[-5.5,-8.1],[-5.3,-10.3],[-3.1,-12],[-2.6,-12.7],[-2,-12.9],[.2,-11.3],[-1.2,-13.4],[-.2,-15.2],[.4,-15.2],[-4.6,-13.4],[-5.7,-14.2],[-6.6,-15.3],[-7.4,-14.7],[-8.1,-13.6],[-9.7,-9.3],[-9.6,-5.7],[-10.1,-5.4],[-11.3,-6.3],[-11.8,-7.9],[-14.2,-8.4],[-16,-5.5],[-15.1,-4.3],[-15.7,-1.2],[-16.1,-.9],[6,-11.2],[7.6,-10.3],[8.9,-9.4],[10.7,-10.8],[11.4,-10.2],[11.9,-10.5],[7.4,-13.4],[-.9,-16],[-2.7,-14.9],[1.1,-13.2],[2.8,-10],[2.6,-15.7],[3.2,-15.9],[-2.1,.1],[-.4,.2],[.5,-1.4],[1,1],[-1,-1.6],[2.2,-.7],[-1.2,1.9],[.2,2.4],[4.2,3.6],[3.6,2.9],[5,2.9],[-7.1,3.3],[-8.2,4.5],[-10,4.7],[-9.1,4.2],[-4.6,2.5],[-3.4,2.5],[13.9,2.4],[13.3,1.7]];
const ew215=[[-1.4,16.6],[-2.2,16.4],[-4,16],[-5.1,15.4],[.5,15.8],[-3.6,13.2],[-3.3,14.1],[-2.2,12.9],[-1.5,13.3],[1,13.8],[7.5,14.7],[8.6,14.5],[8.9,13.1],[-8.2,12.3],[-9.2,10.2],[-10.2,11.3],[-11.4,11.3],[-12.9,8.7],[-4.1,10.1],[-3.6,9.1],[-2.7,10.9],[-1.9,11.1],[1.7,10.9],[5.9,8.1],[6.2,7.1],[6.9,7.3],[8.3,7.4],[13.6,7],[10.4,3.5],[-9.8,4.2],[-9.2,4.7],[-8.7,4],[-7.4,4.6],[-6.3,5.1],[-4.1,5.1],[-4.9,4.9],[-3,3.3],[-1.6,2.8],[-.1,3.3],[1.2,4.7],[4.5,4.9],[4.9,2.3],[6.1,3.1],[7.5,2.9],[8.9,3.7],[10.2,1.7],[-14.5,2.5],[-15.9,1.2],[-13.1,2.9],[-11.9,1.2],[-10,2],[-2.4,.2],[-1.6,-.7],[.5,-.9],[1.5,-.1],[2.7,-.9],[3.2,-1.3],[-3.3,-1.9],[-.8,-3.5],[.2,-1.5],[1.3,-3],[2.1,-3.9],[5,-4.4],[5.5,-4.1],[6.4,-2.6],[7.8,-1.9],[8.8,-3.1],[9.7,-4.2],[6.9,-4.4],[7.4,-4.2],[8.1,-5.9],[8.7,-6.7],[11.8,-1.6],[13.1,-.4],[14,-3.4],[14.9,-6.2],[15.7,-8.2],[-9.3,-5.5],[-9,-6.4],[-9.9,-7.3],[-11.4,-7.6],[-14.5,-5.8],[-14.8,-6.4],[-15.7,-4.8],[-15,-2.3],[-13.5,-1.8],[-2,-6.6],[-2,-8.6],[.4,-8.7],[2.6,-6.9],[3.1,-8.6],[3.7,-7.3],[-4.5,-10.5],[-3.5,-9.3],[-4.8,-8.6],[-1,-11],[-.7,-13.5],[-.1,-14.8],[-1.1,-15.1],[-2,-15.3],[2.3,-16.3],[-4.6,-14],[-6,-15],[-7.4,-13.2],[-9.6,-12.6],[-11.5,-10.8],[4,-14.9],[3.3,-14.6],[10.5,-9.6],[6.5,-9.1],[8.9,-12.2],[8.3,-13.2],[-16.9,-1.4],[-16.6,-2],[-16.2,-.2]];
const ew235=[[-5,16.1],[-3.5,15.1],[-3.2,14.7],[-2.2,14],[-.4,16.3],[.9,16],[3.2,16.2],[4.2,16.1],[-1.3,15.6],[-8.6,13.6],[-8.6,14.4],[-7.2,13.2],[-9.9,11.4],[-6.1,11.4],[-4,12.9],[-4.3,12.4],[8.3,12.7],[8,12.3],[7.6,11.1],[6.3,8.7],[6.7,9.9],[4.3,8.3],[3.1,8],[.4,5.2],[-.5,4],[-9.5,4.4],[-8.6,7.2],[-7.4,7.6],[-5.6,6.5],[-3.8,5.5],[-3,4.4],[-8.1,1],[-5.6,2.9],[-4.9,.9],[-3.4,-.4],[-2.1,-.4],[-.9,.3],[.8,-.6],[1.1,-2],[3.6,.3],[5.8,.1],[7.1,-.5],[8.3,-.8],[9.1,-2.2],[9.8,-1.9],[7.2,-2.7],[8,-3.1],[6.5,-3.6],[7.5,-4.6],[8.1,-5.1],[6.7,-5.5],[9.4,-5.3],[10,-5.7],[13.7,-1],[14.2,-.9],[15.2,-.5],[14.3,2.9],[13.4,1.3],[12.6,5.4],[-14.3,1.5],[-15.5,2.8],[-16.3,.4],[-15.4,.1],[-12.5,2],[-11.2,-.4],[-10,2.9],[-9.5,-1.4],[-14.6,-.6],[-12.8,-2.4],[-14.9,-5.4],[-15.3,-4.2],[-14.5,-2.6],[-9,-5.3],[-8.9,-7.1],[-8.6,-6.8],[-8.8,-8.4],[-7.8,-4.7],[2.2,-9.1],[2.9,-9.4],[3,-8],[3.9,-9.4],[.9,-8.8],[1.3,-8],[-.7,-8.4],[-5.3,-8.3],[-6.6,-7.3],[-8.5,-10.1],[-8.1,-9.4],[-3.1,-11.2],[-4.7,-11.5],[-1.7,-12.8],[-1,-13.5],[-.7,-14.6],[-.3,-13.5],[.2,-13.9],[-3.3,-14],[-4.4,-12.4],[-4.4,-15],[4.2,-12.4],[3.2,-15],[3.5,-14.9],[8.8,-10.5],[8.3,-10.7],[10.7,-8],[13.3,-8.1],[11.7,-9.7],[8.2,-9.2],[13,-3.1],[12.6,-4.7],[15.7,-3.5],[14.7,5.1],[15,6.1]];
const ew245=[[-3.2,16.4],[-.9,16.3],[-1.6,15.4],[3.7,16.1],[-6.5,15.5],[-4.4,13.2],[-5.1,13.2],[-3.3,13.9],[1.5,15],[3.4,13.7],[5,13.3],[5,12.6],[7,13.2],[8.1,12.7],[14.1,9.1],[14,9],[15.1,8.1],[-14.6,7.4],[-12.2,6],[-13.6,4],[-14.6,5],[-10,8.1],[-4.4,5.6],[-5.5,5],[-5.1,4.4],[-4.7,4.9],[-.2,4.2],[.3,4],[3.4,3],[-9.6,3.9],[-7.5,1.8],[-6.7,1],[-5.9,.9],[-1.2,2.4],[-1.7,1.2],[1.3,2.7],[2.7,.3],[3.1,-.2],[5.2,.3],[6.8,.9],[7.5,1.1],[9.7,.5],[15.6,3],[13.8,.9],[-11.3,.5],[-13.3,-.1],[-14.4,-.8],[-12.7,-1.2],[-2.4,-2],[-.3,-2.1],[.3,-2.9],[1,-3.3],[-2.9,-2.6],[4.5,-1.1],[6.3,-1.5],[6.6,-3.7],[8,-3.9],[9,-2.9],[10.7,-3.4],[8.3,-6],[8.9,-6.3],[3.2,-8.2],[3.5,-9.6],[2.1,-9.5],[-9,-5.8],[-14.4,-6.6],[-14.7,-7],[-12.8,-7.3],[-9,-9.7],[-4.6,-9.5],[-2.8,-10.2],[-4.7,-12.3],[-1.4,-11.1],[-.7,-12.9],[.5,-12.7],[3.8,-14],[3.2,-13.9],[3.9,-16.1],[4.2,-15.3],[-7.1,-12.5],[-5.5,-13],[-8,-14],[13.1,-9],[15.3,-5.5],[15.1,-7.4],[12.4,-2.9],[11.6,1.5],[11.9,5.2],[11.8,5.7],[12,4.4]];

// ---------- colour scale (tick positions, labels and gradient levels) ----------
const spectral=[[0,'#9e0142'],[.1,'#d53e4f'],[.2,'#f46d43'],[.3,'#fdae61'],[.4,'#fee08b'],[.5,'#ffffbf'],[.6,'#e6f598'],[.7,'#abdda4'],[.8,'#66c2a5'],[.9,'#3288bd'],[1,'#5e4fa2']];
const cbLevels=[1,1.1,1.2,1.3,1.4,1.5,1.6,1.7,1.75,1.8,1.9,2,2.1,2.2,2.3,2.4,2.5];
const cbTicks=[1,1.2,1.4,1.6,1.8,2,2.2,2.4], cbLabels=['1.0','1.2','1.4','1.6','1.8','2.0','2.2','2.4'];
const offsetTicks=[-15,-10,-5,0,5,10,15], offsetLabels=['−15','−10','−5','0','5','10','15'];
const ringRadii=[6.2,9.5,12,14.8];
const greyScale=[[0,'rgba(255,255,255,0)'],[.07,'rgba(255,255,255,0)'],[.07,'#dedede'],[.28,'#dedede'],[.28,'#b2b2b2'],[.5,'#b2b2b2'],[.5,'#868686'],[.76,'#868686'],[.76,'#555555'],[1,'#555555']];

// ---------- build ----------
const W=1254,H=1357;
const cols=[[112.5,351.5],[363,601],[614,852],[864,1102]];
const rows=[[269,508],[520,757],[770,1008],[1020,1258]];
const params=[
 {range:alphaRange,ticks:alphaTicks,labels:alphaLabels,grid:alphaGrid,pdf:alphaPdf,q:alphaQuant,shift:9},
 {range:psiRange,ticks:psiTicks,labels:psiLabels,grid:psiGrid,pdf:psiPdf,q:psiQuant,shift:5},
 {range:phiRange,ticks:phiTicks,labels:phiLabels,grid:phiGrid,pdf:phiPdf,q:phiQuant,shift:5},
 {range:ageRange,ticks:ageTicks,labels:ageLabels,grid:ageGrid,pdf:agePdf,q:ageQuant,shift:9}];
const contours={
 '1,0':[[apX1,apY1],[apX2,apY2],[apX3,apY3],[apX4,apY4,1]],
 '2,0':[[afX0,afY0],[afX1,afY1],[afX2,afY2],[afX3,afY3],[afX4,afY4],[afX5,afY5],[afX6,afY6,1]],
 '2,1':[[pfX0,pfY0],[pfX1,pfY1],[pfX2,pfY2],[pfX3,pfY3],[pfX4,pfY4],[pfX5,pfY5],[pfX6,pfY6],[pfX7,pfY7,1]],
 '3,0':[[atX1,atY1],[atX2,atY2],[atX3,atY3],[atX4,atY4,1],[atX5,atY5,1],[atX6,atY6,1],[atX7,atY7],[atX8,atY8],[atX9,atY9],[atX10,atY10,1]],
 '3,1':[[ptX0,ptY0],[ptX00,ptY00,1],[ptX1,ptY1],[ptX2,ptY2],[ptX3,ptY3],[ptX4,ptY4,1],[ptX5,ptY5,1],[ptX6,ptY6,1],[ptX7,ptY7],[ptX8,ptY8],[ptX9,ptY9],[ptX10,ptY10]],
 '3,2':[[ftX0,ftY0],[ftX1,ftY1],[ftX2,ftY2],[ftX3,ftY3],[ftX4,ftY4,1],[ftX5,ftY5,1],[ftX6,ftY6,1],[ftX7,ftY7,1],[ftX8,ftY8],[ftX9,ftY9],[ftX10,ftY10],[ftX11,ftY11,1]]
};
const BLUE='#2400ff', FILL='#6a60ff', AX='#444444', SERIF='"Liberation Serif","Times New Roman",serif', SANS='"DejaVu Sans",sans-serif';
const traces=[], layout={width:W,height:H,margin:{l:0,r:0,t:0,b:0,pad:0},paper_bgcolor:'#fff',plot_bgcolor:'rgba(0,0,0,0)',showlegend:false,annotations:[],shapes:[],hovermode:false};
let ax=0;
function addAxes(xdef,ydef,col,row){
  ax++; const xn='xaxis'+(ax>1?ax:''), yn='yaxis'+(ax>1?ax:''), xr='x'+(ax>1?ax:''), yr='y'+(ax>1?ax:'');
  const base={showgrid:false,zeroline:false,showline:true,linecolor:AX,linewidth:1.2,ticks:'outside',ticklen:3,tickcolor:AX,tickwidth:1};
  layout[xn]=Object.assign({domain:[col[0]/W,col[1]/W],anchor:yr},base,xdef);
  layout[yn]=Object.assign({domain:[1-row[1]/H,1-row[0]/H],anchor:xr},base,ydef);
  return {x:xr,y:yr};
}
function serifAxis(p,showLabels,isY){
  const d={range:p.range.slice(),mirror:true,tickmode:'array',tickvals:p.ticks,ticktext:p.labels,showticklabels:showLabels,tickangle:-45,tickfont:{family:SERIF,size:21,color:'#333'}};
  if(showLabels){ if(isY){d.ticklabelstandoff=9;} else {d.ticklabelshift=p.shift;d.ticklabelstandoff=-5;} }
  return d;
}
for(let r=0;r<4;r++){for(let c=0;c<=r;c++){
  const px=params[c], py=params[r];
  if(r===c){
    const a=addAxes(serifAxis(px,r===3,false),{range:[0,1],mirror:true,showticklabels:false,ticks:''},cols[c],rows[r]);
    traces.push({type:'scatter',mode:'lines',x:px.grid,y:px.pdf,fill:'tozeroy',fillcolor:FILL,line:{width:0,color:FILL,shape:'spline',smoothing:.6},xaxis:a.x,yaxis:a.y,hoverinfo:'skip'});
    px.q.forEach(v=>traces.push({type:'scatter',mode:'lines',x:[v,v],y:[0,1],line:{color:BLUE,width:2.2,dash:'6px,2.5px'},xaxis:a.x,yaxis:a.y,hoverinfo:'skip'}));
  } else {
    const a=addAxes(serifAxis(px,r===3,false),serifAxis(py,c===0,true),cols[c],rows[r]);
    (contours[r+','+c]||[]).forEach(t=>{
      traces.push({type:'scatter',mode:'lines',x:t[0],y:t[1],line:{color:BLUE,width:t[2]?.8:2,shape:'spline',smoothing:.9},fill:t[2]?'toself':'none',fillcolor:BLUE,xaxis:a.x,yaxis:a.y,hoverinfo:'skip'});
    });
  }
}}
// offset map
const sansTick={family:SANS,size:13.5,color:'#222'};
const mapAxes=addAxes(
  {range:[-17.34,16.77],mirror:true,linecolor:'#666',tickmode:'array',tickvals:offsetTicks,ticktext:offsetLabels,ticklen:4,ticklabelstandoff:-3,tickfont:sansTick,title:{text:'offset [pMpc]',font:sansTick,standoff:3}},
  {range:[-17.05,17],linecolor:'#666',tickmode:'array',tickvals:offsetTicks,ticktext:offsetLabels,ticklen:4,tickfont:sansTick,title:{text:'offset [pMpc]',font:sansTick,standoff:0}},
  [706,1254],[9,556]);
// density rows -> grid, lightly rounded, drawn as one stepped heatmap
const gridX=[],gridY=[];
for(let v=-18;v<=18;v+=.5){gridX.push(v);gridY.push(v);}
const rawZ=gridY.map(()=>gridX.map(()=>0));
[[densityLow,1],[densityMid,2],[densityHigh,3],[densityPeak,4]].forEach(t=>{
  t[0].forEach(row=>{
    const iy=gridY.indexOf(row[0]);
    for(let k=1;k<row.length;k+=2){
      gridX.forEach((xv,ix)=>{ if(xv>=row[k]&&xv<=row[k+1]) rawZ[iy][ix]=Math.max(rawZ[iy][ix],t[1]); });
    }
  });
});
const kern=[1,2,1];
const gridZ=rawZ.map((rw,iy)=>rw.map((_,ix)=>{
  if(iy===0||ix===0||iy===rawZ.length-1||ix===rw.length-1) return 0;
  let s=0; for(let a=-1;a<=1;a++) for(let b=-1;b<=1;b++) s+=kern[a+1]*kern[b+1]*rawZ[iy+a][ix+b];
  return s/16;
}));
traces.push({type:'heatmap',x:gridX,y:gridY,z:gridZ,zmin:0,zmax:4,colorscale:greyScale,zsmooth:'best',showscale:false,xaxis:mapAxes.x,yaxis:mapAxes.y,hoverinfo:'skip'});
[[ew165,1.68,5],[ew178,1.8,4.4],[ew145,1.47,5.4],[ew190,1.92,4.2],[ew215,2.12,3.4],[ew235,2.33,3],[ew245,2.47,3],[ew125,1.25,5.8],[ew105,1.08,6]].forEach(g=>{
  traces.push({type:'scatter',mode:'markers',x:g[0].map(p=>p[0]),y:g[0].map(p=>p[1]),marker:{color:g[0].map(()=>g[1]),cmin:1,cmax:2.5,colorscale:spectral,size:g[2],line:{width:0},showscale:false},xaxis:mapAxes.x,yaxis:mapAxes.y,hoverinfo:'skip'});
});
ringRadii.forEach(R=>layout.shapes.push({type:'circle',xref:mapAxes.x,yref:mapAxes.y,x0:-R,x1:R,y0:-R,y1:R,line:{color:'#555',width:1},layer:'above'}));
// colour bar
const cbAxes=addAxes(
  {range:[1,2.487],tickmode:'array',tickvals:cbTicks,ticktext:cbLabels,ticklen:3,mirror:true,linecolor:'#444',ticklabelstandoff:-3,tickfont:sansTick,title:{text:'log(equivalent width [Å])',font:sansTick,standoff:5}},
  {range:[0,1],showticklabels:false,ticks:'',showline:true,linecolor:'#444'},
  [706,1254],[612,640]);
traces.push({type:'heatmap',x:cbLevels,y:[0,1],z:[cbLevels,cbLevels],zmin:1,zmax:2.5,colorscale:spectral,showscale:false,zsmooth:'best',xaxis:cbAxes.x,yaxis:cbAxes.y,hoverinfo:'skip'});

// text
function note(px,py,text,size,anchor,extra){layout.annotations.push(Object.assign({xref:'paper',yref:'paper',x:px/W,y:1-py/H,text:text,showarrow:false,xanchor:anchor||'left',yanchor:'middle',font:{family:SERIF,size:size,color:'#222'},borderpad:0},extra||{}));}
note(505,65,'(Kikuta+ 2023)',53,'center',{font:{family:'"Liberation Sans",Arial,sans-serif',size:53,color:'#000'}});
[['<i>α</i> [rad] = 1.26',277,252,'+0.25','−0.12',247,261],['Ψ [rad] = 0.46',530,503,'+0.54','−0.38',497,512],['<i>ϕ</i> [rad] = 1.30',782,754,'+4.18','−1.01',747,761],['<i>t</i><sub>age</sub> [Gyr] = 0.13',1042,1005,'+0.07','−0.07',998,1012]].forEach(t=>{
  note(t[1],t[2],t[0],24,'right');
  note(t[1]+1,t[5],t[3],17.5,'left');
  note(t[1]+1,t[6],t[4],17.5,'left');
});
[['<i>α</i> [rad]',232,1342],['Ψ [rad]',483,1342],['<i>ϕ</i> [rad]',733,1343],['<i>t</i><sub>age</sub> [Gyr]',983,1340]].forEach(t=>note(t[1],t[2],t[0],23,'center'));
[['Ψ [rad]',26,638],['<i>ϕ</i> [rad]',26,890],['<i>t</i><sub>age</sub> [Gyr]',26,1140]].forEach(t=>note(t[1],t[2],t[0],23,'center',{textangle:-90}));
Plotly.newPlot('plot',traces,layout,{displayModeBar:false,staticPlot:true});
</script></body></html>
